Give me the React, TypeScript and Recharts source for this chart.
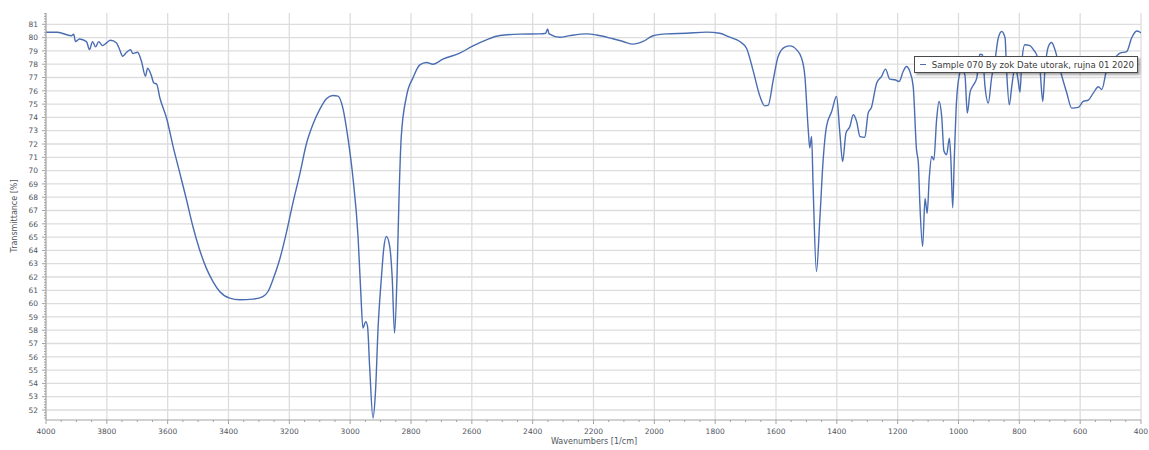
import { LineChart, Line, XAxis, YAxis, CartesianGrid, Legend } from 'recharts';

// wavenumber [1/cm] (4000 -> 400)
const wavenumbers = [
  4000, 3962, 3917, 3909, 3903, 3890, 3867, 3857, 3847, 3837, 3827, 3814, 3801, 3788, 3768, 3758,
  3748, 3735, 3722, 3715, 3699, 3686, 3673, 3666, 3653, 3646, 3636, 3626, 3603, 3583, 3561, 3539,
  3517, 3495, 3473, 3451, 3429, 3396, 3363, 3320, 3287, 3270, 3254, 3232, 3210, 3188, 3166, 3144,
  3122, 3100, 3078, 3057, 3040, 3024, 3007, 2991, 2974, 2965, 2958, 2949, 2943, 2936, 2925, 2917,
  2908, 2897, 2890, 2881, 2870, 2862, 2854, 2846, 2839, 2832, 2815, 2793, 2771, 2749, 2728, 2695,
  2640, 2596, 2552, 2508, 2442, 2377, 2357, 2351, 2346, 2311, 2278, 2223, 2190, 2136, 2103, 2070,
  2037, 2004, 1960, 1894, 1828, 1785, 1752, 1719, 1697, 1675, 1653, 1637, 1626, 1609, 1593, 1571,
  1554, 1532, 1516, 1505, 1494, 1489, 1483, 1478, 1467, 1456, 1445, 1434, 1417, 1401, 1390, 1381,
  1370, 1357, 1346, 1335, 1324, 1308, 1297, 1286, 1269, 1253, 1240, 1226, 1209, 1195, 1182, 1171,
  1160, 1149, 1138, 1132, 1127, 1118, 1110, 1103, 1096, 1088, 1081, 1072, 1064, 1055, 1048, 1039,
  1030, 1025, 1019, 1014, 1008, 1001, 990, 979, 971, 962, 952, 940, 930, 921, 913, 902,
  891, 880, 869, 858, 847, 842, 833, 825, 814, 804, 798, 792, 782, 765, 754, 743,
  732, 723, 716, 705, 694, 683, 666, 644, 628, 606, 590, 573, 557, 540, 529, 513,
  491, 469, 447, 431, 414, 403, 400,
];

// transmittance [%]
const transmittance = [
  80.4, 80.4, 80.14, 80.26, 79.7, 79.9, 79.7, 79.1, 79.7, 79.3, 79.7, 79.4, 79.6, 79.8, 79.6, 79.1,
  78.6, 78.9, 79.1, 78.8, 78.9, 78.2, 77.1, 77.7, 77.1, 76.6, 76.5, 75.5, 73.9, 71.9, 69.9, 67.9,
  65.8, 64.05, 62.67, 61.66, 60.91, 60.41, 60.29, 60.34, 60.53, 60.91, 61.8, 63.3, 65.3, 67.6, 69.7, 72.0,
  73.5, 74.6, 75.4, 75.65, 75.6, 74.7, 72.4, 69.5, 65.0, 60.8, 58.16, 58.65, 58.3, 55.27, 51.4, 53.27,
  58.28, 62.04, 64.05, 65.05, 64.3, 62.04, 57.78, 62.04, 68.3, 72.56, 75.57, 77.0, 77.95, 78.13, 78.0, 78.38,
  78.83, 79.38, 79.83, 80.16, 80.26, 80.28, 80.33, 80.66, 80.28, 80.03, 80.15, 80.28, 80.2, 79.91, 79.71, 79.51,
  79.71, 80.14, 80.28, 80.33, 80.41, 80.33, 80.03, 79.71, 79.2, 77.5, 75.6, 74.87, 74.9, 76.83, 78.58, 79.29,
  79.38, 79.08, 78.46, 77.08, 73.07, 71.7, 72.56, 68.8, 62.41, 66.3, 70.8, 73.32, 74.44, 75.57, 72.82, 70.68,
  72.82, 73.32, 74.2, 73.7, 72.56, 72.5, 74.32, 74.77, 76.58, 77.08, 77.63, 76.88, 76.83, 76.7, 77.45, 77.83,
  77.45, 76.33, 71.56, 70.56, 67.5, 64.3, 67.9, 66.8, 69.5, 71.06, 70.8, 73.82, 75.2, 74.0, 71.5, 71.2,
  72.44, 70.8, 67.2, 70.8, 74.57, 76.65, 77.58, 77.2, 74.32, 75.9, 76.4, 76.95, 78.75, 78.7, 76.35, 75.08,
  77.0, 78.3, 80.0, 80.46, 80.0, 77.58, 74.95, 76.3, 77.83, 76.8, 75.9, 78.1, 79.46, 79.4, 79.1, 78.7,
  77.58, 75.2, 77.5, 79.3, 79.63, 79.1, 77.58, 75.83, 74.7, 74.75, 75.2, 75.3, 75.83, 76.3, 76.1, 77.58,
  78.33, 78.83, 78.95, 79.97, 80.5, 80.4, 80.35,
];

const xMajorTicks = [4000, 3800, 3600, 3400, 3200, 3000, 2800, 2600, 2400, 2200, 2000, 1800, 1600, 1400, 1200, 1000, 800, 600, 400];
const yMajorTicks = [52, 53, 54, 55, 56, 57, 58, 59, 60, 61, 62, 63, 64, 65, 66, 67, 68, 69, 70, 71, 72, 73, 74, 75, 76, 77, 78, 79, 80, 81];

const seriesName = 'Sample 070 By zok Date utorak, rujna 01 2020';

const data = wavenumbers.map((wn, i) => ({ wn, t: transmittance[i] }));

// minor ticks: every 50 1/cm, every 0.2 %
const xTicks: number[] = [];
for (let v = 400; v <= 4000; v += 50) xTicks.push(v);
const yTicks: number[] = [];
for (let k = 257; k <= 409; k++) yTicks.push(Math.round(k * 2) / 10);

const FONT = '"DejaVu Sans", sans-serif';
const AXIS = '#a3a3a3';
const LINE = '#4a6db2';

const XTick = ({ x, y, payload }: any) => {
  const major = payload.value % 200 === 0;
  return (
    <g>
      <line x1={x} x2={x} y1={y} y2={y + (major ? 4 : 2)} stroke={AXIS} />
      {major && (
        <text x={x} y={y + 14} textAnchor="middle" fontSize={7.5} fontFamily={FONT} fill="#505560">
          {payload.value}
        </text>
      )}
    </g>
  );
};

const YTick = ({ x, y, payload }: any) => {
  const v = payload.value;
  const major = Math.abs(v - Math.round(v)) < 0.01;
  return (
    <g>
      <line x1={x - (major ? 4 : 2)} x2={x} y1={y} y2={y} stroke={AXIS} />
      {major && (
        <text x={x - 8} y={y} dy="0.36em" textAnchor="end" fontSize={7.5} fontFamily={FONT} fill="#505560">
          {Math.round(v)}
        </text>
      )}
    </g>
  );
};

const LegendBox = () => (
  <div
    style={{
      display: 'flex',
      alignItems: 'center',
      width: 216,
      height: 15,
      padding: '0 3px',
      background: '#fff',
      border: '1px solid #4a4a4a',
      boxShadow: '2px 2px 2px rgba(0,0,0,0.35)',
      fontFamily: FONT,
      fontSize: 8.6,
      color: '#3a3a3a',
      whiteSpace: 'nowrap',
    }}
  >
    <span style={{ display: 'inline-block', width: 7, height: 1, background: LINE, marginLeft: 2, marginRight: 6 }} />
    {seriesName}
  </div>
);

export default function App() {
  return (
    <div style={{ position: 'absolute', left: 0, top: 0, width: 1149, height: 450, background: '#fff' }}>
      <LineChart width={1149} height={450} data={data} margin={{ top: 13, right: 8, bottom: 0, left: 0 }}>
        <CartesianGrid
          stroke="#dddddd"
          strokeWidth={1.3}
          horizontalValues={yMajorTicks}
          verticalValues={xMajorTicks}
        />
        <XAxis
          dataKey="wn"
          type="number"
          domain={[400, 4000]}
          reversed
          ticks={xTicks}
          interval={0}
          tick={<XTick />}
          tickLine={false}
          tickSize={0}
          tickMargin={0}
          height={30}
          stroke={AXIS}
          allowDataOverflow
        />
        <YAxis
          type="number"
          domain={[51.25, 81.85]}
          ticks={yTicks}
          interval={0}
          tick={<YTick />}
          tickLine={false}
          tickSize={0}
          tickMargin={0}
          width={46}
          stroke={AXIS}
          allowDataOverflow
        />
        <Legend
          layout="horizontal"
          align="center"
          verticalAlign="middle"
          content={<LegendBox />}
          wrapperStyle={{ position: 'absolute', left: 914, top: 56, width: 'auto', right: 'auto', bottom: 'auto' }}
        />
        <Line
          type="monotoneX"
          dataKey="t"
          name={seriesName}
          stroke={LINE}
          strokeWidth={1.4}
          dot={false}
          isAnimationActive={false}
        />
        <text x={594} y={444} textAnchor="middle" fontSize={8} fontFamily={FONT} fill="#505560">
          Wavenumbers [1/cm]
        </text>
        <text
          x={14}
          y={216}
          transform="rotate(-90 14 216)"
          textAnchor="middle"
          dominantBaseline="central"
          fontSize={8}
          fontFamily={FONT}
          fill="#505560"
        >
          Transmittance [%]
        </text>
      </LineChart>
    </div>
  );
}
